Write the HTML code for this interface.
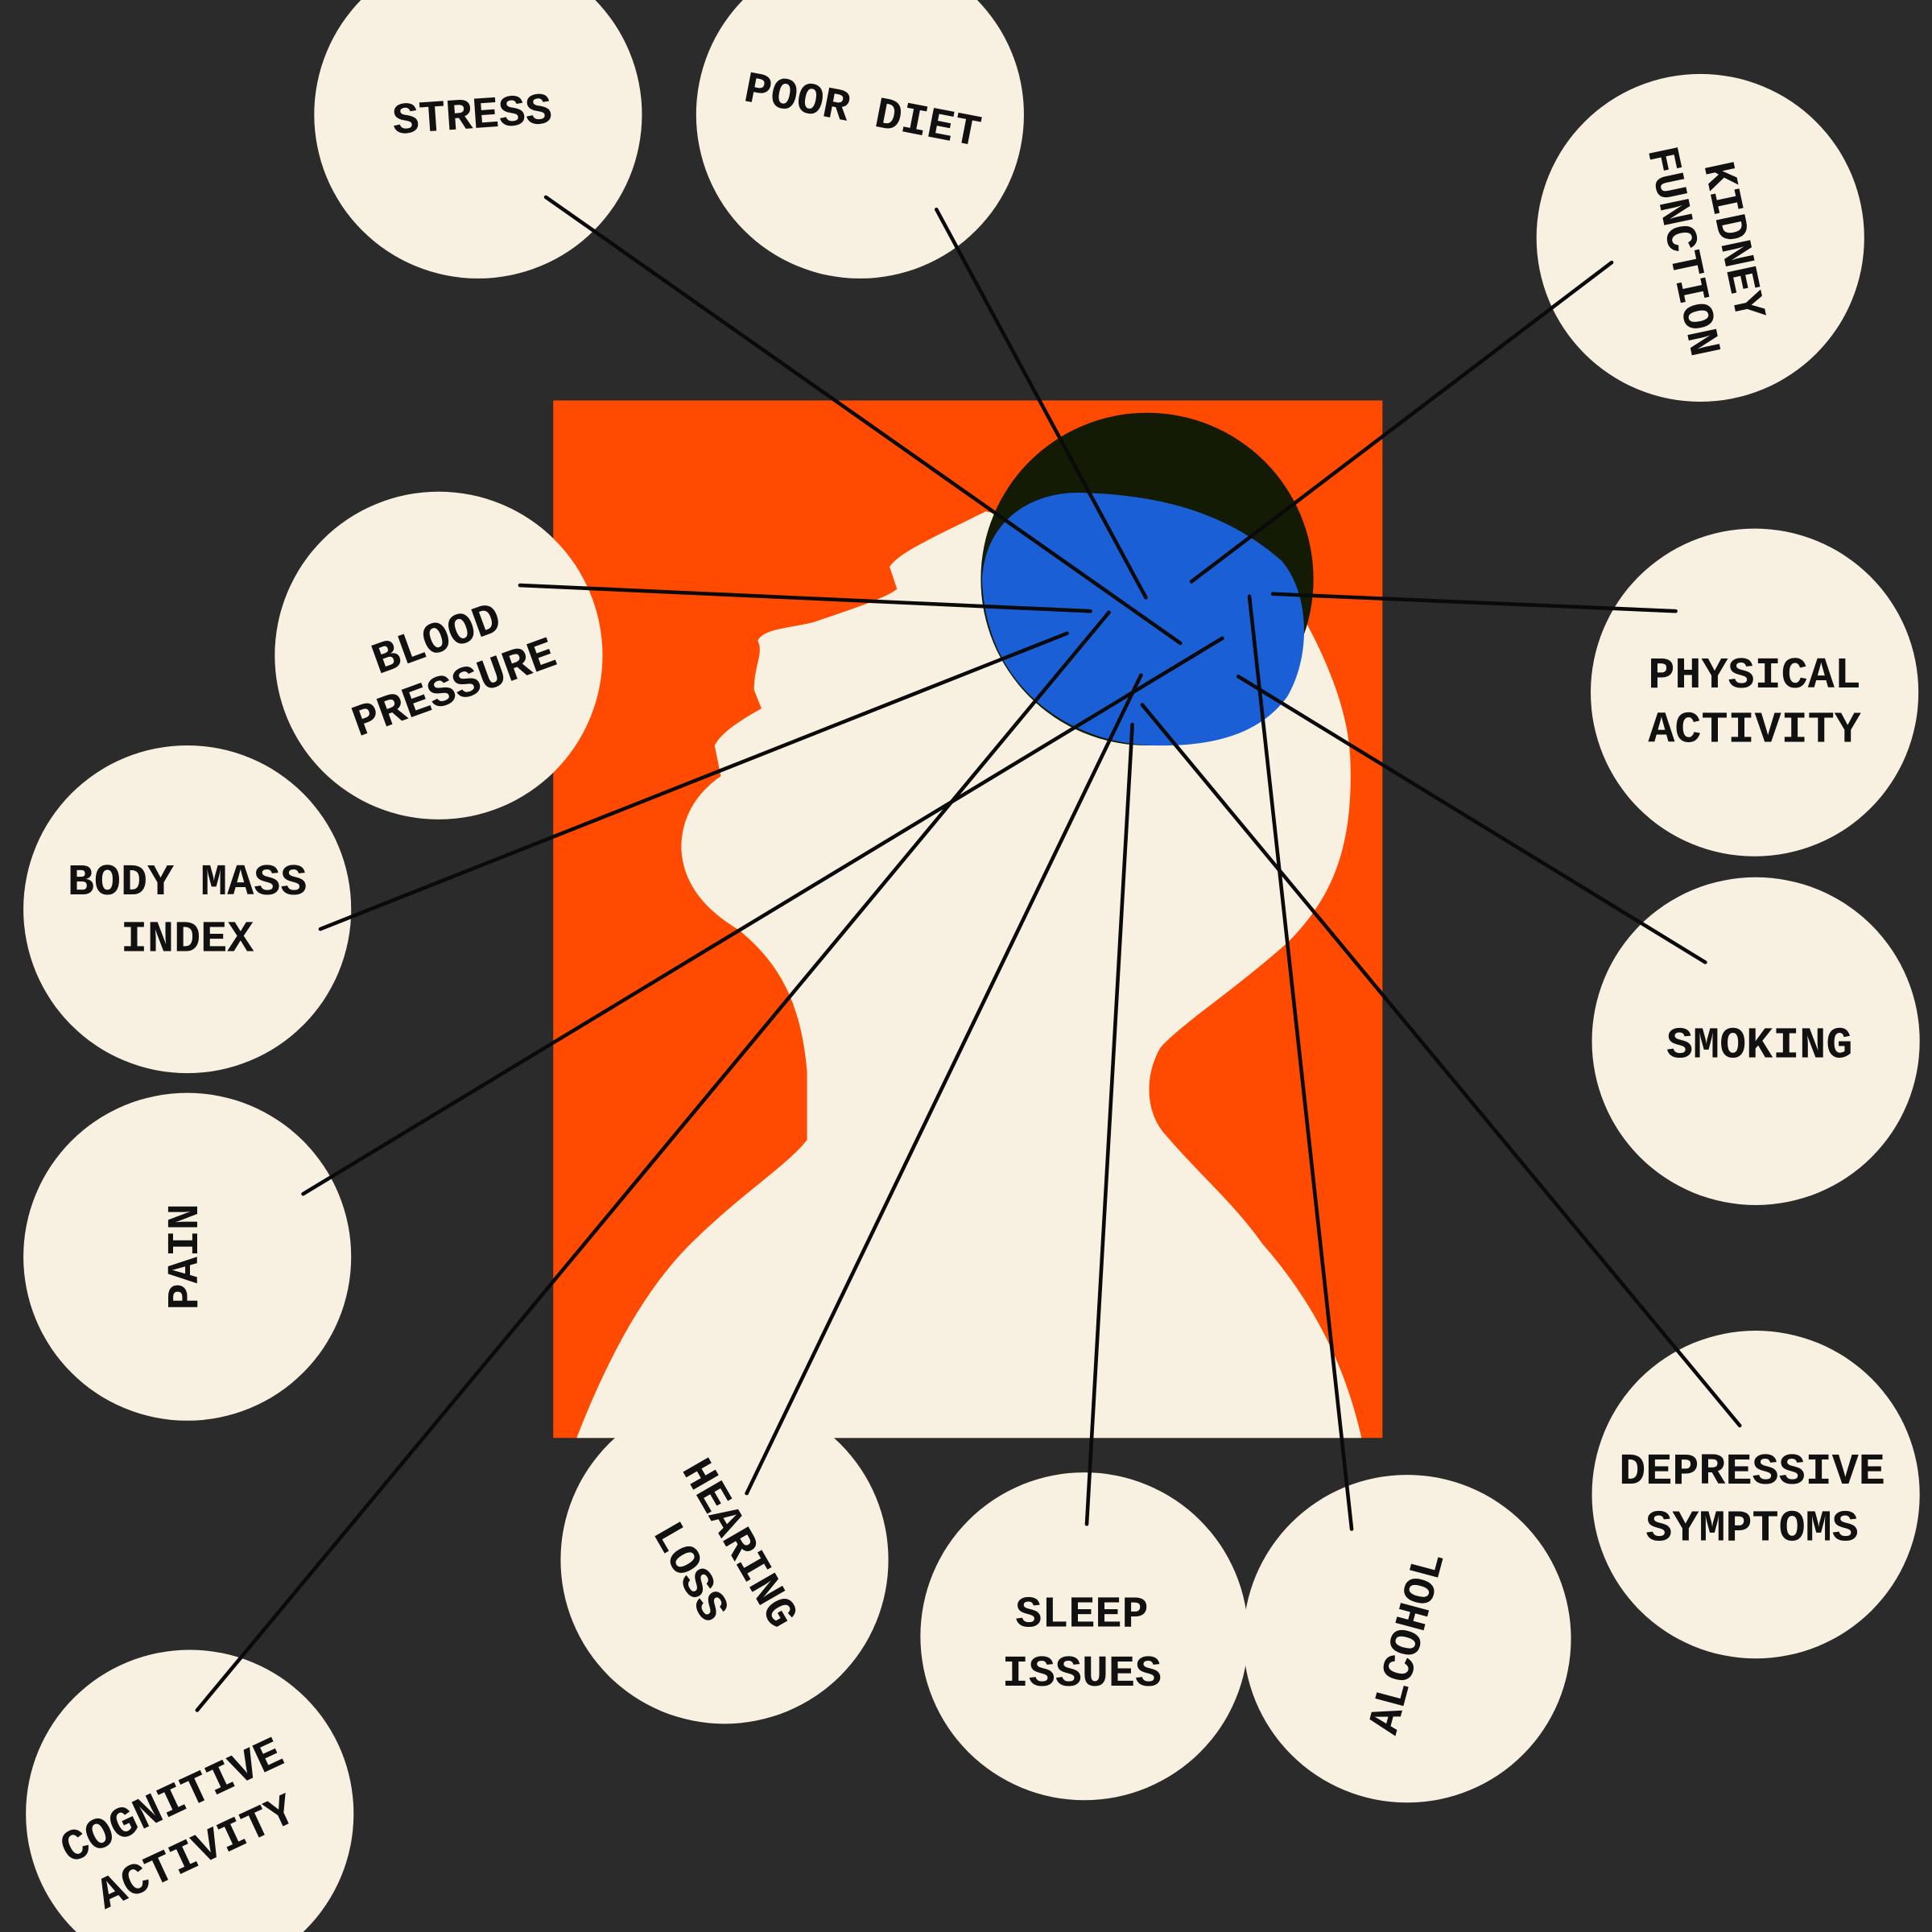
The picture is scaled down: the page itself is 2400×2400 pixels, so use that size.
<!DOCTYPE html>
<html><head><meta charset="utf-8"><style>
html,body{margin:0;padding:0;background:#2b2b2b;}
svg{display:block}
text{font-family:"Liberation Mono","DejaVu Sans Mono",monospace;font-weight:bold;font-size:36px;fill:#111;text-anchor:middle;}
</style></head><body>
<svg width="2400" height="2400" viewBox="0 0 1568 1568" xmlns="http://www.w3.org/2000/svg">
<rect width="1568" height="1568" fill="#2b2b2b"/>
<rect x="449" y="325" width="673" height="842" fill="#ff4a00"/>
<path fill="#f8f0e1" d="M468,1167 C490,1110 520,1050 560,1010 C600,970 640,945 655,925 L655,870 C650,810 630,780 600,755 C575,740 555,720 553,690 C552,660 570,640 585,630 L580,605 C585,595 600,585 618,575 L612,560 C612,540 620,530 615,520 C620,510 640,510 660,505 C690,495 720,485 728,478 L722,460 C730,448 760,435 800,415 L1040,470 C1070,520 1095,570 1096,620 C1098,690 1080,730 1045,765 C1000,805 960,830 942,850 C930,870 928,900 945,920 C975,955 1000,975 1025,1010 C1060,1050 1090,1100 1105,1167 Z"/>
<circle cx="931" cy="470" r="135" fill="#141b05"/>
<path fill="#1a5fd6" d="M797,470 C800,420 840,398 880,400 C950,402 1000,420 1040,455 C1062,480 1065,530 1045,565 C1020,600 975,606 935,605 C870,603 800,560 797,470 Z"/>
<g fill="#f8f0e1">
<circle cx="388" cy="93" r="133"/>
<circle cx="698" cy="93" r="133"/>
<circle cx="1380" cy="193" r="133"/>
<circle cx="356" cy="532" r="133"/>
<circle cx="152" cy="738" r="133"/>
<circle cx="152" cy="1020" r="133"/>
<circle cx="154" cy="1472" r="133"/>
<circle cx="588" cy="1266" r="133"/>
<circle cx="880" cy="1328" r="133"/>
<circle cx="1142" cy="1330" r="133"/>
<circle cx="1425" cy="1213" r="133"/>
<circle cx="1425" cy="845" r="133"/>
<circle cx="1424" cy="562" r="133"/>
</g>
<g stroke="#0a0a0a" stroke-width="3" stroke-linecap="round">
<line x1="443" y1="160" x2="958" y2="522"/>
<line x1="760" y1="170" x2="930" y2="485"/>
<line x1="1308" y1="213" x2="967" y2="472"/>
<line x1="422" y1="475" x2="885" y2="496"/>
<line x1="1360" y1="496" x2="1033" y2="482"/>
<line x1="260" y1="754" x2="866" y2="514"/>
<line x1="1384" y1="781" x2="1005" y2="549"/>
<line x1="246" y1="969" x2="992" y2="518"/>
<line x1="1412" y1="1157" x2="927" y2="572"/>
<line x1="160" y1="1388" x2="900" y2="497"/>
<line x1="606" y1="1212" x2="926" y2="548"/>
<line x1="882" y1="1237" x2="919" y2="588"/>
<line x1="1097" y1="1241" x2="1014" y2="484"/>
</g>
<text transform="translate(384,104) rotate(-4)">STRESS</text>
<text transform="translate(698,100) rotate(11)">POOR DIET</text>
<g transform="translate(1385,200) rotate(78)"><text y="-12">KIDNEY</text><text y="30">FUNCTION</text></g>
<g transform="translate(362,540) rotate(-20)"><text y="-12">BLOOD</text><text y="30">PRESSURE</text></g>
<g transform="translate(152,740)"><text y="-14">BODY MASS</text><text y="32">INDEX</text></g>
<text transform="translate(160,1020) rotate(-90)">PAIN</text>
<g transform="translate(150,1484) rotate(-25)"><text y="-14">COGNITIVE</text><text y="32">ACTIVITY</text></g>
<g transform="translate(584,1262) rotate(60)"><text y="-8">HEARING</text><text y="38">LOSS</text></g>
<g transform="translate(878,1330)"><text y="-10">SLEEP</text><text y="38">ISSUES</text></g>
<text transform="translate(1152,1336) rotate(-75)">ALCOHOL</text>
<g transform="translate(1422,1214)"><text y="-10">DEPRESSIVE</text><text y="36">SYMPTOMS</text></g>
<text transform="translate(1428,858)">SMOKING</text>
<g transform="translate(1424,566)"><text y="-8">PHYSICAL</text><text y="36">ACTIVITY</text></g>
</svg>
</body></html>
